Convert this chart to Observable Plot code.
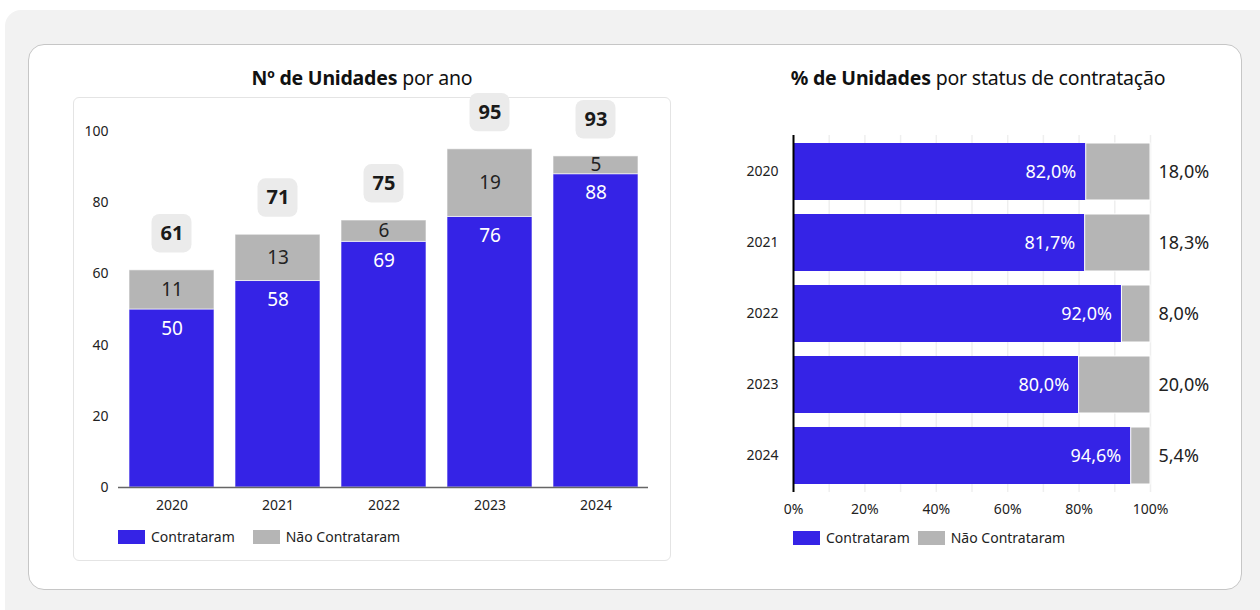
<!DOCTYPE html>
<html>
<head>
<meta charset="utf-8">
<script src="https://cdn.jsdelivr.net/npm/d3@7"></script>
<script src="https://cdn.jsdelivr.net/npm/@observablehq/plot@0.6"></script>
<style>
  html, body { margin: 0; padding: 0; background: #ffffff; }
  body { width: 1260px; height: 610px; position: relative; overflow: hidden; font-family: "Noto Sans", sans-serif; color: #222; }
  .abs { position: absolute; }
  #bg { left: 5px; top: 10px; width: 1275px; height: 620px; background: #f2f2f2; border-radius: 16px; }
  #card { left: 28px; top: 44px; width: 1212px; height: 544px; background: #fff; border: 1.5px solid #c6c6c6; border-radius: 16px; }
  #leftbox { left: 73px; top: 97px; width: 596px; height: 462px; border: 1px solid #e4e4e4; border-radius: 6px; background: #fff; }
  .title { font-size: 19.5px; white-space: nowrap; transform: translateX(-50%); color: #111; letter-spacing: -0.2px; }
  .title b { font-weight: 700; }
  .legend { display: flex; align-items: center; font-size: 14px; color: #222; white-space: nowrap; }
  .sw { width: 27px; height: 14px; display: inline-block; margin-right: 6px; }
  svg { overflow: visible; }
</style>
</head>
<body>
<div id="bg" class="abs"></div>
<div id="card" class="abs"></div>
<div id="leftbox" class="abs"></div>
<div class="abs title" style="left:362px; top:64px;"><b>Nº de Unidades</b> por ano</div>
<div class="abs title" style="left:978px; top:64px;"><b>% de Unidades</b> por status de contratação</div>
<div id="left" class="abs" style="left:73px; top:97px;"></div>
<div id="right" class="abs" style="left:720px; top:120px;"></div>
<div id="legL" class="abs legend" style="left:118px; top:527px;"></div>
<div id="legR" class="abs legend" style="left:793px; top:528px;"></div>
<script>
// ---- data ----
const years = ["2020", "2021", "2022", "2023", "2024"];
const contrataram = [50, 58, 69, 76, 88];
const naoContrataram = [11, 13, 6, 19, 5];
const totals = [61, 71, 75, 95, 93];
const pctContrataram = [82.0, 81.7, 92.0, 80.0, 94.6];
const pctNao = [18.0, 18.3, 8.0, 20.0, 5.4];
const countTicks = [0, 20, 40, 60, 80, 100];
const pctTicks = [0, 20, 40, 60, 80, 100];
const pctGrid = [10, 20, 30, 40, 50, 60, 70, 80, 90, 100];
const seriesNames = ["Contrataram", "Não Contrataram"];

const BLUE = "#3523E6";
const GRAY = "#B5B5B5";
const fmtPct = v => v.toFixed(1).replace(".", ",") + "%";

// ---- left chart ----
const rowsL = years.map((y, i) => ({year: y, c: contrataram[i], n: naoContrataram[i], t: totals[i]}));
const boxOff = 10.3;   // label box centre above the stack, in units
const boxHalf = 5.4;

const left = Plot.plot({
  width: 597,
  height: 430,
  marginLeft: 45,
  marginRight: 22,
  marginTop: 34,
  marginBottom: 40,
  style: {fontFamily: "Noto Sans", fontSize: "14px", color: "#222", background: "transparent"},
  x: {domain: years, paddingInner: 0.2, paddingOuter: 0.1, tickSize: 0, tickPadding: 13, label: null},
  y: {domain: [0, 100], ticks: countTicks, tickSize: 0, tickPadding: 10, label: null},
  marks: [
    Plot.barY(rowsL, {x: "year", y1: 0, y2: "c", fill: BLUE, stroke: "#fff", strokeOpacity: 0.6, strokeWidth: 1}),
    Plot.barY(rowsL, {x: "year", y1: "c", y2: d => d.c + d.n, fill: GRAY, stroke: "#fff", strokeOpacity: 0.6, strokeWidth: 1}),
    Plot.ruleY([0], {stroke: "#666", strokeWidth: 1.5}),
    Plot.text(rowsL, {x: "year", y: "c", dy: 19, text: d => String(d.c), fill: "#fff", fontSize: 19}),
    Plot.text(rowsL, {x: "year", y: d => d.c + d.n / 2, text: d => String(d.n), fill: "#222", fontSize: 19}),
    Plot.barY(rowsL, {x: "year", y1: d => d.t + boxOff - boxHalf, y2: d => d.t + boxOff + boxHalf, fill: "#ebebeb", insetLeft: 22.5, insetRight: 22.5, rx: 8}),
    Plot.text(rowsL, {x: "year", y: d => d.t + boxOff, text: d => String(d.t), fill: "#1a1a1a", fontSize: 20, fontWeight: "bold"})
  ]
});
document.getElementById("left").appendChild(left);

// ---- right chart ----
const rowsR = years.map((y, i) => ({year: y, c: pctContrataram[i], n: pctNao[i]}));
const right = Plot.plot({
  width: 530,
  height: 402,
  marginLeft: 73,
  marginRight: 100,
  marginTop: 15,
  marginBottom: 30,
  style: {fontFamily: "Noto Sans", fontSize: "14px", color: "#222", background: "transparent"},
  x: {domain: [0, 100], ticks: pctTicks, tickFormat: d => d + "%", tickSize: 0, tickPadding: 12, label: null},
  y: {domain: years, paddingInner: 0.2, paddingOuter: 0.1, tickSize: 0, tickPadding: 15, label: null},
  marks: [
    Plot.ruleX(pctGrid, {stroke: "#efefef", strokeWidth: 1.5}),
    Plot.barX(rowsR, {y: "year", x1: 0, x2: "c", fill: BLUE}),
    Plot.barX(rowsR, {y: "year", x1: "c", x2: 100, fill: GRAY, stroke: "#fff", strokeWidth: 1}),
    Plot.ruleX([0], {stroke: "#000", strokeWidth: 2}),
    Plot.text(rowsR, {y: "year", x: "c", text: d => fmtPct(d.c), fill: "#fff", textAnchor: "end", dx: -10, fontSize: 18}),
    Plot.text(rowsR, {y: "year", x: 100, text: d => fmtPct(d.n), fill: "#222", textAnchor: "start", dx: 8, fontSize: 18})
  ]
});
document.getElementById("right").appendChild(right);

// ---- legends ----
function legend(el, gap) {
  const colors = [BLUE, GRAY];
  seriesNames.forEach((name, i) => {
    const item = document.createElement("span");
    item.style.display = "inline-flex";
    item.style.alignItems = "center";
    item.style.marginRight = gap + "px";
    const sw = document.createElement("span");
    sw.className = "sw";
    sw.style.background = colors[i];
    item.appendChild(sw);
    item.appendChild(document.createTextNode(name));
    el.appendChild(item);
  });
}
legend(document.getElementById("legL"), 18);
legend(document.getElementById("legR"), 8);
</script>
</body>
</html>
